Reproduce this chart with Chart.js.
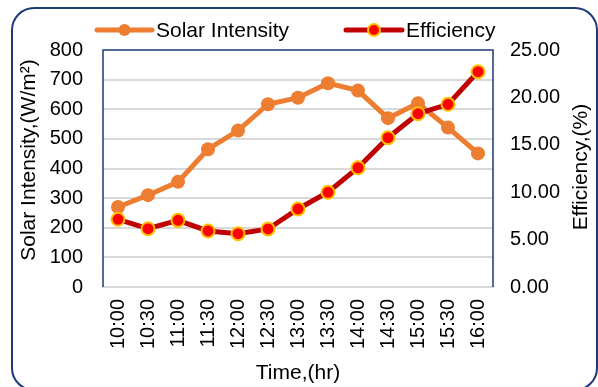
<!DOCTYPE html>
<html>
<head>
<meta charset="utf-8">
<script src="https://cdn.jsdelivr.net/npm/chart.js@4/dist/chart.umd.min.js"></script>
<style>
  html, body { margin: 0; padding: 0; background: #fff; }
  #wrap { position: relative; width: 598px; height: 387px; }
</style>
</head>
<body>
<div id="wrap"><canvas id="chart" width="598" height="387"></canvas></div>
<script>
// Hourly readings
const times = ['10:00', '10:30', '11:00', '11:30', '12:00', '12:30', '13:00',
               '13:30', '14:00', '14:30', '15:00', '15:30', '16:00'];
const solarIntensity = [270, 310, 355, 465, 528, 617, 639, 688, 663, 570, 620, 538, 451];
const efficiency = [7.14, 6.15, 7.03, 5.91, 5.62, 6.12, 8.23, 9.99, 12.58, 15.75, 18.28, 19.27, 22.71];

// Axis ranges
const solarRange = { min: 0, max: 800, step: 100 };
const effRange = { min: 0, max: 25, step: 5 };

// Titles and legend text
const xTitle = 'Time,(hr)';
const leftTitle = 'Solar Intensity,(W/m\u00B2)';
const rightTitle = 'Efficiency,(%)';
const seriesNames = ['Solar Intensity', 'Efficiency'];

const FONT = '"Liberation Sans", Arial, sans-serif';
const NAVY = '#1f3a7a';
const GRID = '#d9d9d9';
const ORANGE = '#ED7D31';
const DARKRED = '#C00000';
const RED = '#FF0000';
const GOLD = '#FFC000';

Chart.defaults.font.family = FONT;
Chart.defaults.color = '#000';

// Frame, plot border, legend and axis titles
const decorations = {
  id: 'decorations',
  beforeDatasetsDraw(chart) {
    const { ctx, chartArea: a } = chart;
    ctx.save();
    ctx.strokeStyle = NAVY;
    ctx.lineWidth = 1.5;
    ctx.beginPath();
    ctx.moveTo(a.left, a.bottom);
    ctx.lineTo(a.left, a.top);
    ctx.lineTo(a.right, a.top);
    ctx.lineTo(a.right, a.bottom);
    ctx.stroke();
    ctx.restore();
  },
  afterDraw(chart) {
    const { ctx } = chart;
    ctx.save();
    // outer rounded frame
    ctx.strokeStyle = NAVY;
    ctx.lineWidth = 2;
    ctx.beginPath();
    ctx.roundRect(12, 8, 585, 382, 22);
    ctx.stroke();

    // legend
    const items = [
      { x1: 97, x2: 152, line: ORANGE, fill: ORANGE, border: null, label: seriesNames[0] },
      { x1: 346, x2: 402, line: DARKRED, fill: RED, border: GOLD, label: seriesNames[1] }
    ];
    const ly = 30;
    items.forEach(it => {
      ctx.strokeStyle = it.line;
      ctx.lineWidth = 5;
      ctx.lineCap = 'round';
      ctx.beginPath();
      ctx.moveTo(it.x1, ly);
      ctx.lineTo(it.x2, ly);
      ctx.stroke();
      ctx.beginPath();
      ctx.arc((it.x1 + it.x2) / 2, ly, 6, 0, Math.PI * 2);
      ctx.fillStyle = it.fill;
      ctx.fill();
      if (it.border) {
        ctx.lineWidth = 2;
        ctx.strokeStyle = it.border;
        ctx.stroke();
      }
      ctx.fillStyle = '#000';
      ctx.font = '21px ' + FONT;
      ctx.textAlign = 'left';
      ctx.textBaseline = 'middle';
      ctx.fillText(it.label, it.x2 + 4, ly + 1);
    });

    // axis titles
    ctx.fillStyle = '#000';
    ctx.font = '21px ' + FONT;
    ctx.textAlign = 'center';
    ctx.textBaseline = 'middle';
    ctx.fillText(xTitle, 298, 373);

    ctx.save();
    ctx.translate(29, 160);
    ctx.rotate(-Math.PI / 2);
    ctx.fillText(leftTitle, 0, 0);
    ctx.restore();

    ctx.save();
    ctx.translate(581, 167);
    ctx.rotate(-Math.PI / 2);
    ctx.fillText(rightTitle, 0, 0);
    ctx.restore();

    ctx.restore();
  }
};

new Chart(document.getElementById('chart'), {
  type: 'line',
  data: {
    labels: times,
    datasets: [
      {
        label: seriesNames[0],
        data: solarIntensity,
        yAxisID: 'y',
        borderColor: ORANGE,
        backgroundColor: ORANGE,
        borderWidth: 5,
        pointRadius: 7,
        pointBackgroundColor: ORANGE,
        pointBorderWidth: 0,
        tension: 0,
        order: 1
      },
      {
        label: seriesNames[1],
        data: efficiency,
        yAxisID: 'y1',
        borderColor: DARKRED,
        backgroundColor: RED,
        borderWidth: 5,
        pointRadius: 6.5,
        pointBackgroundColor: RED,
        pointBorderColor: GOLD,
        pointBorderWidth: 2,
        tension: 0,
        order: 0
      }
    ]
  },
  options: {
    responsive: false,
    animation: false,
    devicePixelRatio: 1,
    layout: { padding: { top: 50, left: 0, right: 0, bottom: 0 } },
    plugins: {
      legend: { display: false },
      tooltip: { enabled: false },
      title: { display: false }
    },
    scales: {
      x: {
        type: 'category',
        offset: true,
        grid: { display: false, drawTicks: false },
        border: { display: true, color: GRID, width: 2 },
        ticks: {
          autoSkip: false,
          maxRotation: 90,
          minRotation: 90,
          padding: 12,
          font: { size: 20 },
          color: '#000'
        },
        afterFit(scale) { scale.height = 100; }
      },
      y: {
        position: 'left',
        min: solarRange.min,
        max: solarRange.max,
        grid: {
          color: ctx => (ctx.tick && ctx.tick.value === solarRange.max) ? 'rgba(0,0,0,0)' : GRID,
          lineWidth: 2,
          drawTicks: false
        },
        border: { display: false },
        ticks: {
          stepSize: solarRange.step,
          padding: 20,
          font: { size: 20 },
          color: '#000'
        },
        afterFit(scale) { scale.width = 103; }
      },
      y1: {
        position: 'right',
        min: effRange.min,
        max: effRange.max,
        grid: { display: false, drawTicks: false },
        border: { display: false },
        ticks: {
          stepSize: effRange.step,
          padding: 17,
          font: { size: 20 },
          color: '#000',
          callback: v => Number(v).toFixed(2)
        },
        afterFit(scale) { scale.width = 105; }
      }
    }
  },
  plugins: [decorations]
});
</script>
</body>
</html>
